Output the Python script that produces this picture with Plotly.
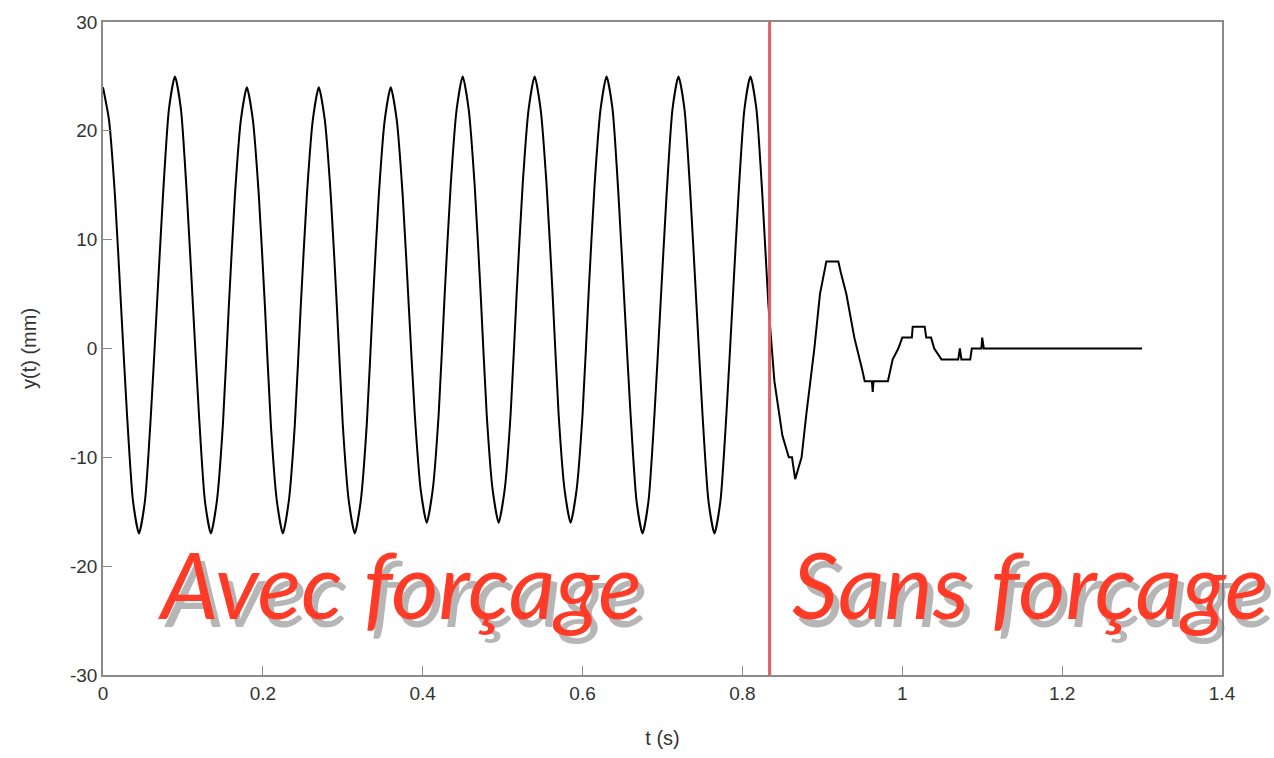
import numpy as np
import plotly.graph_objects as go

# --- Data ---
# Forced regime: samples every 0.0075 s from t = 0 to t = 0.8325
forced_step = 0.0075
forced_y = [
    24, 21, 14, 4, -6, -14, -17, -14, -6, 4, 14, 22, 25,
    22, 14, 4, -6, -14, -17, -14, -7, 4, 14, 21, 24,
    21, 14, 4, -7, -14, -17, -14, -7, 4, 14, 21, 24,
    21, 14, 4, -7, -14, -17, -14, -7, 4, 14, 21, 24,
    21, 14, 4, -6, -13, -16, -13, -6, 5, 15, 22, 25,
    22, 15, 5, -6, -13, -16, -13, -6, 5, 15, 22, 25,
    22, 15, 5, -6, -13, -16, -13, -6, 5, 15, 22, 25,
    22, 14, 4, -6, -14, -17, -14, -6, 4, 14, 22, 25,
    22, 14, 4, -6, -14, -17, -14, -6, 4, 14, 22, 25,
    22, 14, 4,
]
forced_t = [round(i * forced_step, 4) for i in range(len(forced_y))]

# Free regime (after forcing is switched off), starts at last forced sample
free_t = [0.8325, 0.84, 0.85, 0.858, 0.862, 0.866, 0.870, 0.874, 0.88, 0.89, 0.897,
          0.902, 0.905, 0.92, 0.923, 0.93, 0.94, 0.95, 0.953, 0.962, 0.963, 0.964, 0.982,
          0.988, 0.995, 1.0, 1.012, 1.013, 1.028, 1.03, 1.036, 1.04, 1.049,
          1.070, 1.072, 1.074, 1.085, 1.087, 1.099, 1.100, 1.102, 1.30]
free_y = [4, -3, -8, -10, -10, -12, -11, -10, -6, 0, 5,
          7, 8, 8, 7, 5, 1, -2, -3, -3, -4, -3, -3,
          -1, 0, 1, 1, 2, 2, 1, 1, 0, -1,
          -1, 0, -1, -1, 0, 0, 1, 0, 0]

t_switch = 0.834

x_ticks = [0, 0.2, 0.4, 0.6, 0.8, 1, 1.2, 1.4]
x_tick_labels = ["0", "0.2", "0.4", "0.6", "0.8", "1", "1.2", "1.4"]
y_ticks = [-30, -20, -10, 0, 10, 20, 30]
y_tick_labels = ["-30", "-20", "-10", "0", "10", "20", "30"]

label_left = "Avec forçage"
label_right = "Sans forçage"

fig = go.Figure()
fig.add_trace(go.Scatter(x=forced_t, y=forced_y, mode="lines",
                         line=dict(color="black", width=2, shape="spline", smoothing=0.6),
                         showlegend=False, hoverinfo="skip"))
fig.add_trace(go.Scatter(x=free_t, y=free_y, mode="lines",
                         line=dict(color="black", width=2),
                         showlegend=False, hoverinfo="skip"))

fig.add_shape(type="line", x0=t_switch, x1=t_switch, y0=0, y1=1,
              xref="x", yref="paper",
              line=dict(color="rgb(222,95,95)", width=3))

axis_common = dict(showline=True, linecolor="#8a8a8a", linewidth=1.5, mirror=True,
                   ticks="inside", ticklen=9, tickcolor="#8a8a8a", tickwidth=1,
                   showgrid=False, zeroline=False,
                   tickfont=dict(family="Liberation Sans, Arial", size=19, color="#333333"))

fig.update_xaxes(range=[0, 1.4], tickvals=x_ticks, ticktext=x_tick_labels,
                 title=dict(text="t (s)", font=dict(family="Liberation Sans, Arial", size=20, color="#333333"), standoff=28),
                 **axis_common)
fig.update_yaxes(range=[-30, 30], tickvals=y_ticks, ticktext=y_tick_labels,
                 title=dict(text="y(t) (mm)", font=dict(family="Liberation Sans, Arial", size=20, color="#333333"), standoff=28),
                 **axis_common)

def add_label(text, xp, yp):
    fig.add_annotation(text=text, x=xp, y=yp, xref="paper", yref="paper",
                       xanchor="left", yanchor="middle", showarrow=False,
                       xshift=6, yshift=-8,
                       font=dict(family="Lato", size=91, color="rgba(110,110,110,0.5)", style="italic"))
    fig.add_annotation(text=text, x=xp, y=yp, xref="paper", yref="paper",
                       xanchor="left", yanchor="middle", showarrow=False,
                       font=dict(family="Lato", size=91, color="rgb(255,58,38)", style="italic"))

add_label(label_left, 0.047, 0.14)
add_label(label_right, 0.614, 0.14)

fig.update_layout(width=1274, height=758,
                  margin=dict(l=103, r=52, t=22, b=81),
                  paper_bgcolor="white", plot_bgcolor="white")

fig.write_html("out.html")
